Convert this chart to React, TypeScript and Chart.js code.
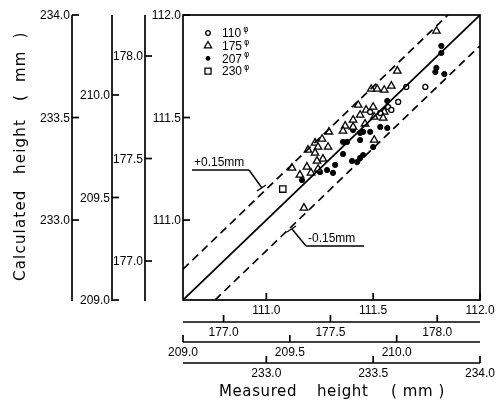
import { useEffect, useRef } from 'react';
import { Chart, registerables } from 'chart.js';
Chart.register(...registerables);

// ---- axis ranges and offsets (mm) ----
const AXIS_MIN = 110.61;
const AXIS_MAX = 112.0;
const BAND = 0.15;

// tick labels of the four nominal scales
const ticks110 = [111.0, 111.5, 112.0];
const ticks175 = [177.0, 177.5, 178.0];
const ticks207 = [209.0, 209.5, 210.0];
const ticks230 = [233.0, 233.5, 234.0];
const offset175 = 66.2;
const offset207 = 98.39;
const offset230 = 122.0;

// legend
const legendNames = ['110', '175', '207', '230'];

// ---- data (measured x, calculated y), in 110-scale mm ----
const s110X = [111.744, 111.655, 111.617, 111.570, 111.585, 111.533, 111.486];
const s110Y = [111.649, 111.649, 111.576, 111.551, 111.537, 111.522, 111.527];

const s175X = [111.796, 111.613, 111.491, 111.519, 111.585, 111.552, 111.430, 111.500, 111.467, 111.552,
  111.369, 111.406, 111.439, 111.505, 111.293, 111.261, 111.359, 111.406, 111.462, 111.547,
  111.228, 111.289, 111.195, 111.242, 111.228, 111.265, 111.237, 111.120, 111.190, 111.242,
  111.209, 111.505, 111.176, 111.157];
const s175Y = [111.922, 111.727, 111.639, 111.639, 111.654, 111.634, 111.561, 111.551, 111.537, 111.527,
  111.459, 111.488, 111.512, 111.503, 111.430, 111.395, 111.434, 111.454, 111.469, 111.498,
  111.376, 111.356, 111.342, 111.356, 111.327, 111.298, 111.288, 111.254, 111.259, 111.249,
  111.230, 111.390, 111.059, 111.220];

const s207X = [111.819, 111.819, 111.796, 111.833, 111.791, 111.566, 111.566, 111.439, 111.359, 111.378,
  111.359, 111.453, 111.439, 111.401, 111.425, 111.322, 111.312, 111.284, 111.167, 111.406,
  111.453, 111.486, 111.439, 111.533, 111.500, 111.251];
const s207Y = [111.849, 111.815, 111.742, 111.712, 111.722, 111.581, 111.449, 111.390, 111.381, 111.381,
  111.322, 111.317, 111.303, 111.288, 111.283, 111.269, 111.230, 111.244, 111.195, 111.439,
  111.430, 111.430, 111.425, 111.454, 111.356, 111.234];

const s230X = [111.077];
const s230Y = [111.151];

const pts = (xs: number[], ys: number[]) => xs.map((x, i) => ({ x, y: ys[i] }));

const TICK_FONT = '12px "Liberation Sans", Arial, sans-serif';

const extrasPlugin = {
  id: 'extras',
  afterDraw(chart: any) {
    const ctx = chart.ctx as CanvasRenderingContext2D;
    const xs = chart.scales.x;
    const ys = chart.scales.y;
    const { left, right, top, bottom } = chart.chartArea;
    ctx.save();
    ctx.strokeStyle = '#000';
    ctx.fillStyle = '#000';
    ctx.lineWidth = 1.7;
    ctx.lineCap = 'butt';

    const line = (x1: number, y1: number, x2: number, y2: number) => {
      ctx.beginPath(); ctx.moveTo(x1, y1); ctx.lineTo(x2, y2); ctx.stroke();
    };

    // frame
    ctx.strokeRect(left, top, right - left, bottom - top);

    ctx.font = TICK_FONT;

    // ---- vertical (calculated) axes ----
    const vAxes = [
      { x: 72, ticks: ticks230, off: offset230 },
      { x: 112, ticks: ticks207, off: offset207 },
      { x: 145, ticks: ticks175, off: offset175 },
      { x: left, ticks: ticks110, off: 0 },
    ];
    vAxes.forEach((a) => {
      if (a.x !== left) line(a.x, top, a.x, bottom + 1);
      a.ticks.forEach((t) => {
        const py = ys.getPixelForValue(t - a.off);
        line(a.x, py, a.x + 7, py);
        ctx.textAlign = 'right';
        ctx.textBaseline = 'middle';
        ctx.fillText(t.toFixed(1), a.x - 2, py + 1);
      });
    });

    // ---- horizontal (measured) axes ----
    const hAxes = [
      { y: bottom, ticks: ticks110, off: 0, labelY: bottom + 11 },
      { y: 322, ticks: ticks175, off: offset175, labelY: 333 },
      { y: 342, ticks: ticks207, off: offset207, labelY: 353 },
      { y: 363, ticks: ticks230, off: offset230, labelY: 374 },
    ];
    hAxes.forEach((a) => {
      if (a.y !== bottom) line(left, a.y, right, a.y);
      a.ticks.forEach((t) => {
        const px = xs.getPixelForValue(t - a.off);
        line(px, a.y, px, a.y - 7);
        ctx.textAlign = 'center';
        ctx.textBaseline = 'middle';
        ctx.fillText(t.toFixed(1), px, a.labelY);
      });
    });

    // ---- axis titles ----
    ctx.font = '15px "DejaVu Sans", sans-serif';
    (ctx as any).letterSpacing = '0.6px';
    ctx.textAlign = 'left';
    ctx.textBaseline = 'middle';
    ctx.fillText('Measured', 219, 392);
    ctx.fillText('height', 317, 392);
    ctx.fillText('( mm )', 391, 392);

    ctx.save();
    ctx.translate(21, 0);
    ctx.rotate(-Math.PI / 2);
    (ctx as any).letterSpacing = '1.2px';
    ctx.fillText('Calculated', -281, 0);
    ctx.fillText('height', -174, 0);
    ctx.fillText('(  mm  )', -101, 0);
    ctx.restore();
    (ctx as any).letterSpacing = '0px';

    // ---- band annotations ----
    ctx.font = '12px "Liberation Sans", Arial, sans-serif';
    ctx.lineWidth = 1.4;
    ctx.textAlign = 'left';
    ctx.textBaseline = 'alphabetic';
    ctx.fillText('+0.15mm', 194, 166);
    line(192, 170, 249, 170);
    line(249, 170, 262, 188);
    line(257, 191, 266, 185);
    ctx.fillText('-0.15mm', 308, 242);
    line(306, 246, 364, 246);
    line(306, 246, 292, 229);
    line(287, 232, 296, 226);

    // ---- legend ----
    ctx.lineWidth = 1.3;
    const lx = left + 25;
    legendNames.forEach((name, i) => {
      const cy = top + 18 + i * 12.7;
      ctx.beginPath();
      if (i === 0) {
        ctx.arc(lx, cy, 2.3, 0, Math.PI * 2); ctx.stroke();
      } else if (i === 1) {
        const r = 4.2;
        ctx.moveTo(lx, cy - r);
        ctx.lineTo(lx + r * 0.866, cy + r * 0.5);
        ctx.lineTo(lx - r * 0.866, cy + r * 0.5);
        ctx.closePath(); ctx.stroke();
      } else if (i === 2) {
        ctx.arc(lx, cy, 2.4, 0, Math.PI * 2); ctx.fill();
      } else {
        ctx.rect(lx - 3, cy - 3, 6, 6); ctx.stroke();
      }
      ctx.font = '12px "Liberation Sans", Arial, sans-serif';
      ctx.textBaseline = 'middle';
      ctx.fillText(name, lx + 14, cy + 1);
      const w = ctx.measureText(name).width;
      ctx.font = '8px "DejaVu Sans", sans-serif';
      ctx.fillText('\u03c6', lx + 16 + w, cy - 3);
    });

    ctx.restore();
  },
};

export default function App() {
  const ref = useRef<HTMLCanvasElement | null>(null);
  useEffect(() => {
    if (!ref.current) return;
    const black = '#000';
    const chart = new Chart(ref.current, {
      type: 'scatter',
      data: {
        datasets: [
          {
            type: 'line',
            data: [{ x: AXIS_MIN, y: AXIS_MIN }, { x: AXIS_MAX, y: AXIS_MAX }],
            borderColor: black, borderWidth: 1.7, pointRadius: 0, fill: false,
          } as any,
          {
            type: 'line',
            data: [{ x: AXIS_MIN, y: AXIS_MIN + BAND }, { x: AXIS_MAX - BAND, y: AXIS_MAX }],
            borderColor: black, borderWidth: 1.7, borderDash: [8, 5], pointRadius: 0, fill: false,
          } as any,
          {
            type: 'line',
            data: [{ x: AXIS_MIN + BAND, y: AXIS_MIN }, { x: AXIS_MAX, y: AXIS_MAX - BAND }],
            borderColor: black, borderWidth: 1.7, borderDash: [8, 5], pointRadius: 0, fill: false,
          } as any,
          {
            label: '110', data: pts(s110X, s110Y), pointStyle: 'circle', pointRadius: 2.5,
            borderColor: black, backgroundColor: '#fff', borderWidth: 1.3,
          },
          {
            label: '175', data: pts(s175X, s175Y), pointStyle: 'triangle', pointRadius: 4.3,
            borderColor: black, backgroundColor: '#fff', borderWidth: 1.3,
          },
          {
            label: '207', data: pts(s207X, s207Y), pointStyle: 'circle', pointRadius: 2.6,
            borderColor: black, backgroundColor: black, borderWidth: 1,
          },
          {
            label: '230', data: pts(s230X, s230Y), pointStyle: 'rect', pointRadius: 4.5,
            borderColor: black, backgroundColor: '#fff', borderWidth: 1.3,
          },
        ],
      },
      options: {
        responsive: false,
        animation: false,
        devicePixelRatio: 1,
        layout: { padding: { left: 183, right: 23, top: 15, bottom: 105 } },
        scales: {
          x: { type: 'linear', min: AXIS_MIN, max: AXIS_MAX, display: false },
          y: { type: 'linear', min: AXIS_MIN, max: AXIS_MAX, display: false },
        },
        plugins: { legend: { display: false }, tooltip: { enabled: false } },
        events: [],
      },
      plugins: [extrasPlugin],
    });
    return () => chart.destroy();
  }, []);
  return (
    <div style={{ position: 'absolute', left: 0, top: 0, width: 503, height: 405, background: '#fff' }}>
      <canvas ref={ref} width={503} height={405} />
    </div>
  );
}
